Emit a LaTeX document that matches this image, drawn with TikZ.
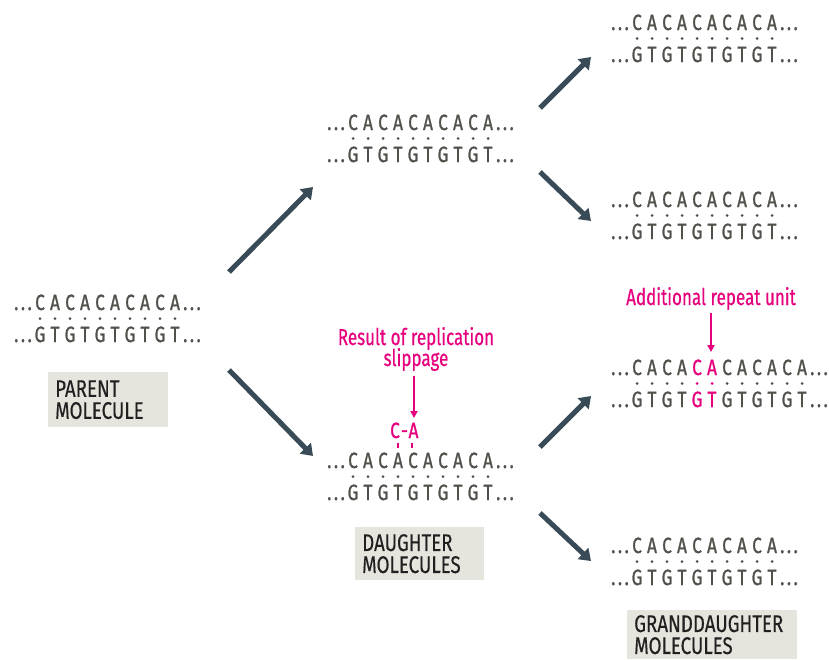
\documentclass[tikz,border=0pt]{standalone}
\usepackage{fontspec}
\usetikzlibrary{arrows.meta,calc}
\setmainfont{Fira Sans}
\newfontfamily\seqfont[FakeStretch=0.78,FakeBold=1.1]{Fira Sans}
\newfontfamily\labfont[FakeStretch=0.78,FakeBold=0.3]{Fira Sans}
\newfontfamily\notefont[FakeStretch=0.74,FakeBold=0.5]{Fira Sans}
\definecolor{seqgray}{HTML}{4F524A}
\definecolor{hotpink}{HTML}{E6007E}
\definecolor{slate}{HTML}{3A4B58}
\definecolor{boxfill}{HTML}{E5E4DD}
\definecolor{labink}{HTML}{231F20}

\newcommand\bpitch{15}
\newcommand\threedots{.\hspace{2.6pt}.\hspace{2.6pt}.}
% base pairs: top letter / bottom letter / colour
\newcommand\caten{C/G/seqgray,A/T/seqgray,C/G/seqgray,A/T/seqgray,C/G/seqgray,A/T/seqgray,C/G/seqgray,A/T/seqgray,C/G/seqgray,A/T/seqgray}
\newcommand\catwelve{C/G/seqgray,A/T/seqgray,C/G/seqgray,A/T/seqgray,C/G/hotpink,A/T/hotpink,C/G/seqgray,A/T/seqgray,C/G/seqgray,A/T/seqgray,C/G/seqgray,A/T/seqgray}

% #1 name, #2 x of first base, #3 top-strand baseline, #4 number of bases, #5 list
\newcommand\duplex[5]{%
  \foreach[count=\i] \t/\b/\c in #5 {
    \path ({#2+(\i-1)*\bpitch},#3) node[base,text=\c] (#1-t\i) {\t}
          ({#2+(\i-1)*\bpitch},#3+8.5) node[pairdot,fill=\c] (#1-d\i) {}
          ({#2+(\i-1)*\bpitch},#3+32) node[base,text=\c] (#1-b\i) {\b};
  }
  \node[ellip,anchor=base east] (#1-tl) at ($(#1-t1.base)+(-8,0)$) {\threedots};
  \node[ellip,anchor=base east] (#1-bl) at ($(#1-b1.base)+(-8,0)$) {\threedots};
  \node[ellip,anchor=base west] (#1-tr) at ($(#1-t#4.base)+(8,0)$) {\threedots};
  \node[ellip,anchor=base west] (#1-br) at ($(#1-b#4.base)+(8,0)$) {\threedots};
}

\tikzset{
  base/.style={anchor=base,inner sep=0pt,font=\seqfont\fontsize{22}{22}\selectfont},
  ellip/.style={inner sep=0pt,text=seqgray,font=\seqfont\fontsize{22}{22}\selectfont},
  pairdot/.style={circle,inner sep=0pt,minimum size=3pt,draw=none},
  flow/.style={draw=slate,line width=5pt,-{Triangle[width=15pt,length=11pt]}},
  pointer/.style={draw=hotpink,line width=2pt,-{Triangle[width=7pt,length=7pt]}},
  tick/.style={draw=hotpink,line width=1.2pt},
  note/.style={anchor=base,inner sep=0pt,text=hotpink,font=\notefont\fontsize{23}{23}\selectfont},
  tag/.style={anchor=north west,fill=boxfill,text=labink,align=left,inner xsep=7pt,
    inner ysep=0pt,font=\labfont\fontsize{24}{22}\selectfont},
}

\begin{document}
\begin{tikzpicture}[x=1pt,y=-1pt]
\useasboundingbox (0,0) rectangle (829,659);
\fill[white] (0,0) rectangle (829,659);

% parent and daughter duplexes
\duplex{par}{40}{310}{10}{\caten}
\duplex{dup}{353}{130}{10}{\caten}
\duplex{dlo}{353}{468}{10}{\caten}

% granddaughter duplexes
\duplex{g1}{637}{30}{10}{\caten}
\duplex{g2}{637}{207}{10}{\caten}
\duplex{g3}{637}{375}{12}{\catwelve}
\duplex{g4}{637}{553}{10}{\caten}

% boxed captions
\node[tag,text width=106pt,minimum height=55pt] (partag) at (48,372) {PARENT\\MOLECULE};
\node[tag,text width=115pt,minimum height=53pt] (dautag) at (355,527) {DAUGHTER\\MOLECULES};
\node[tag,text width=156pt,minimum height=49pt] (grtag) at (627,610) {GRANDDAUGHTER\\MOLECULES};

% replication arrows
\coordinate (p1s) at (229,272); \coordinate (p1e) at (313,187);
\coordinate (p2s) at (229,370); \coordinate (p2e) at (313,456);
\coordinate (u1s) at (540,108); \coordinate (u1e) at (591,57);
\coordinate (u2s) at (540,172); \coordinate (u2e) at (591,221);
\coordinate (l1s) at (540,447); \coordinate (l1e) at (591,396);
\coordinate (l2s) at (540,513); \coordinate (l2e) at (591,561);
\draw[flow] (p1s) -- (p1e);
\draw[flow] (p2s) -- (p2e);
\draw[flow] (u1s) -- (u1e);
\draw[flow] (u2s) -- (u2e);
\draw[flow] (l1s) -- (l1e);
\draw[flow] (l2s) -- (l2e);

% slippage annotation
\node[note] (slip1) at (416,345) {Result of replication};
\node[note] (slip2) at (416,366) {slippage};
\node[base,text=hotpink] (cac) at (395,438) {C};
\node[base,text=hotpink] (cah) at (404.5,438) {-};
\node[base,text=hotpink] (caa) at (413.5,438) {A};
\coordinate (tk1) at (398,443); \coordinate (tk2) at (412,443);
\draw[tick] (tk1) -- ++(0,5);
\draw[tick] (tk2) -- ++(0,5);
\coordinate (sl1) at (414,376); \coordinate (sl2) at (414,418);
\draw[pointer] (sl1) -- (sl2);

% extra repeat annotation
\node[note] (addl) at (711,305) {Additional repeat unit};
\coordinate (ad1) at (711,313); \coordinate (ad2) at (711,352);
\draw[pointer] (ad1) -- (ad2);
\end{tikzpicture}
\end{document}
